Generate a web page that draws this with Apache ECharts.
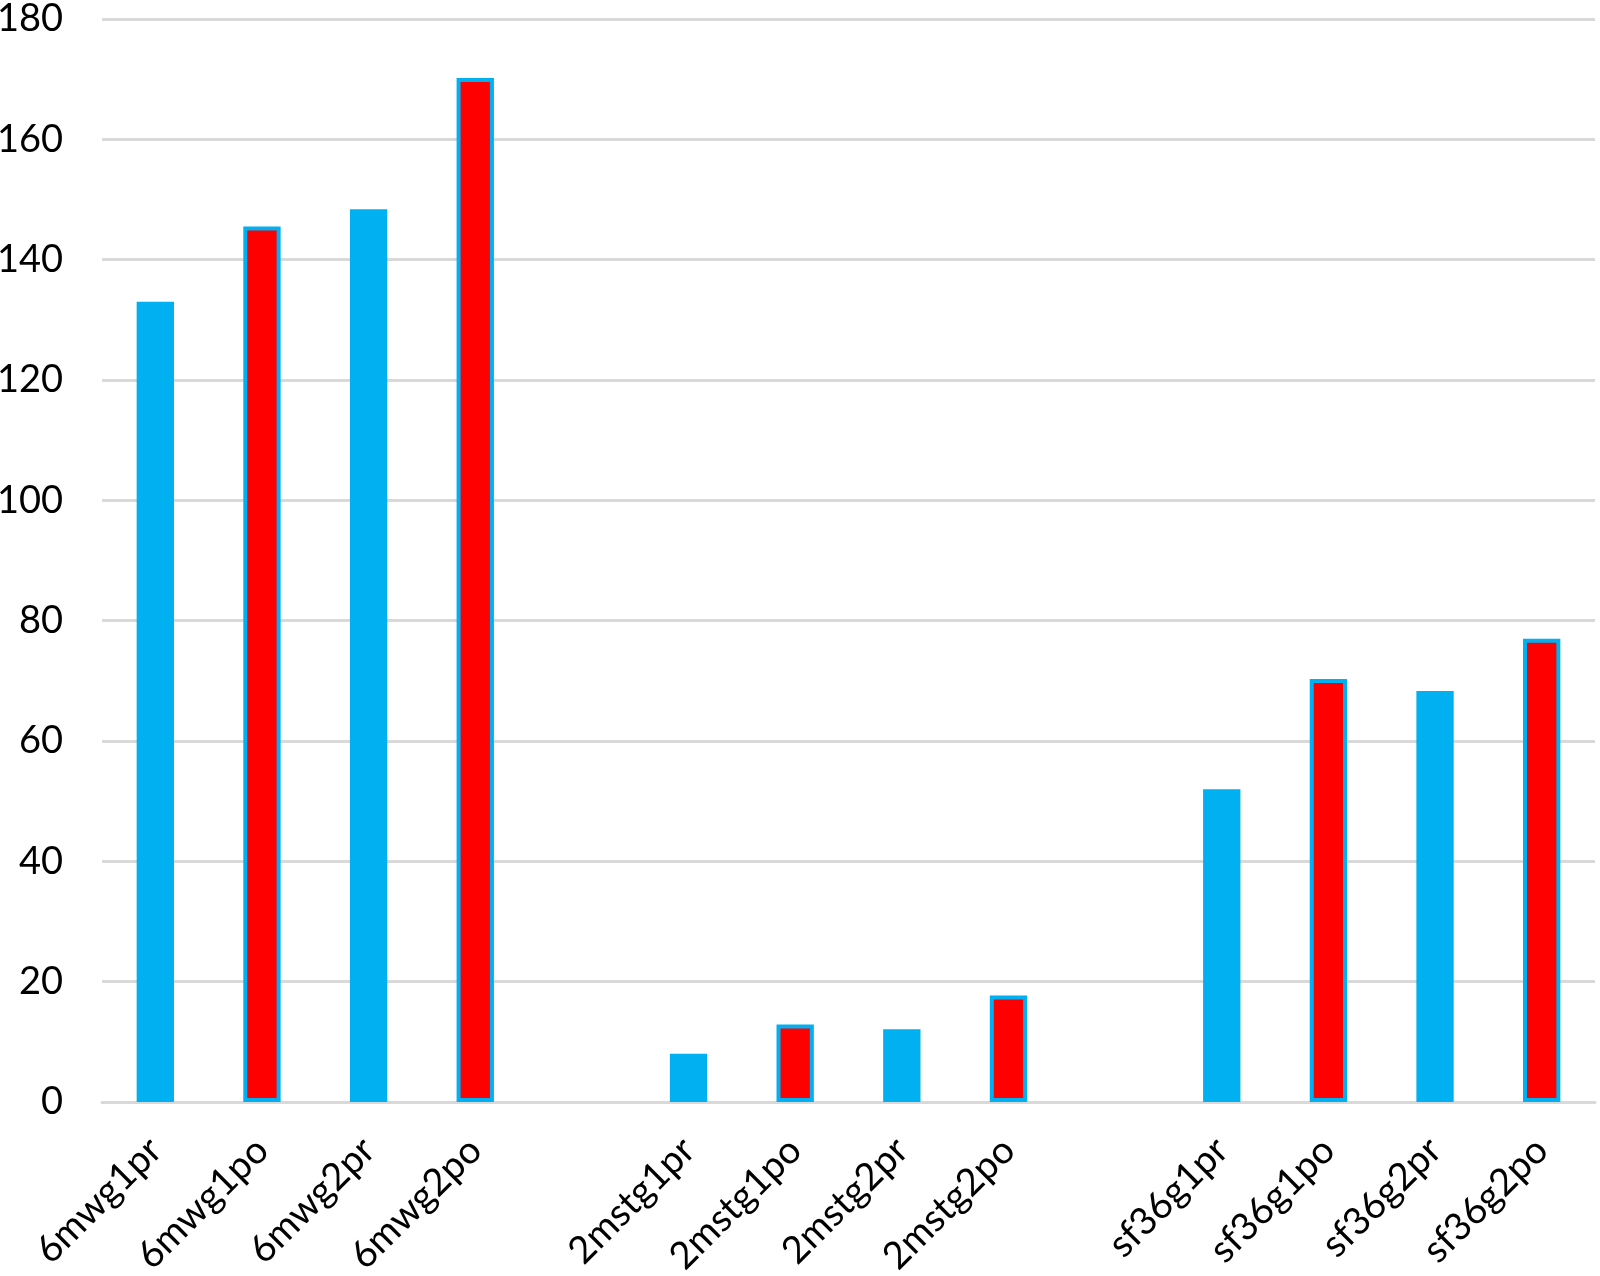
<!DOCTYPE html>
<html><head><meta charset="utf-8">
<script src="https://cdn.jsdelivr.net/npm/echarts@6/dist/echarts.min.js"></script>
<style>html,body{margin:0;padding:0;background:#fff}#c{width:1600px;height:1276px}</style>
</head><body><div id="c"></div>
<script>
const categories = ['6mwg1pr','6mwg1po','6mwg2pr','6mwg2po','','2mstg1pr','2mstg1po','2mstg2pr','2mstg2po','','sf36g1pr','sf36g1po','sf36g2pr','sf36g2po'];
const values = [133, 145.5, 148.4, 170.2, null, 8, 12.9, 12.1, 17.7, null, 52, 70.3, 68.3, 77];
const isPost = [false, true, false, true, false, false, true, false, true, false, false, true, false, true];
const yTicks = [0, 20, 40, 60, 80, 100, 120, 140, 160, 180];

const BLUE = '#00B0F0', RED = '#FF0000';
const data = values.map((v, i) => ({
  value: v,
  itemStyle: isPost[i]
    ? {color: RED, borderColor: BLUE, borderWidth: 4}
    : {color: BLUE, borderWidth: 0}
}));

const chart = echarts.init(document.getElementById('c'), null, {renderer: 'canvas'});
chart.setOption({
  animation: false,
  backgroundColor: '#fff',
  grid: {left: 102, right: 5, top: 19, bottom: 174, containLabel: false, outerBoundsMode: 'none'},
  xAxis: {
    type: 'category',
    data: categories,
    axisLine: {show: true, lineStyle: {color: '#d9d9d9', width: 3}},
    axisTick: {show: false},
    axisLabel: {
      interval: 0, rotate: 45, margin: 42,
      fontFamily: 'Lato', fontSize: 38, color: '#000'
    }
  },
  yAxis: {
    type: 'value',
    min: yTicks[0], max: yTicks[yTicks.length - 1], interval: 20,
    axisLine: {show: false},
    axisTick: {show: false},
    splitLine: {lineStyle: {color: '#d9d9d9', width: 3}},
    axisLabel: {
      margin: 39, fontFamily: 'Lato', fontSize: 38, color: '#000'
    }
  },
  series: [{
    type: 'bar',
    data: data,
    barWidth: '35%'
  }]
});
</script></body></html>
